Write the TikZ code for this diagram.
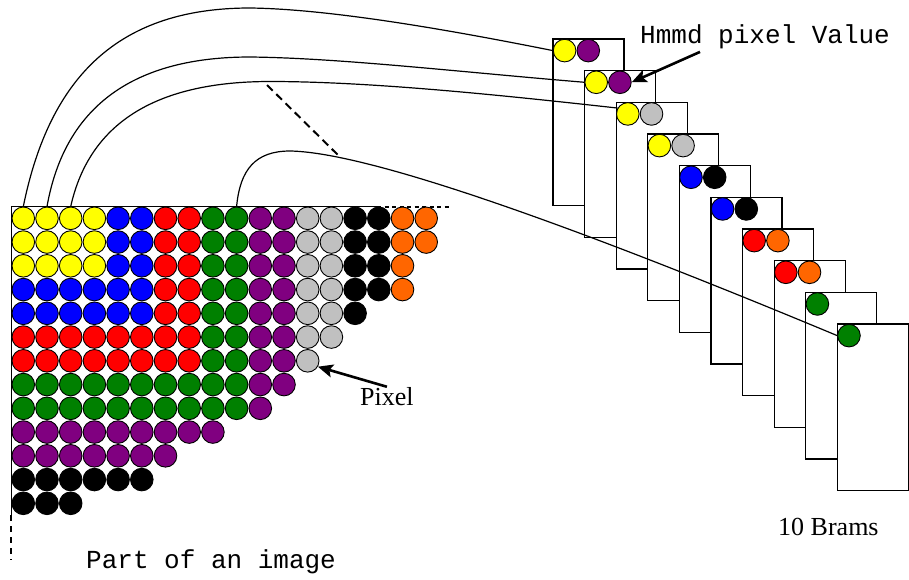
\documentclass[tikz,border=0pt]{standalone}
\usepackage{fontspec}
\setmainfont{Liberation Serif}
\setmonofont{Liberation Mono}
\usetikzlibrary{arrows.meta, positioning}

\definecolor{pxY}{RGB}{255,255,0}
\definecolor{pxB}{RGB}{0,0,255}
\definecolor{pxR}{RGB}{255,0,0}
\definecolor{pxG}{RGB}{0,128,0}
\definecolor{pxP}{RGB}{128,0,128}
\definecolor{pxS}{RGB}{192,192,192}
\definecolor{pxK}{RGB}{0,0,0}
\definecolor{pxO}{RGB}{255,102,0}

\begin{document}
\begin{tikzpicture}[x=1pt, y=-1pt,
  pix/.style={circle, draw, line width=.9pt, minimum size=22.6pt, inner sep=0pt},
  bram/.style={rectangle, draw, fill=white, line width=1.3pt, anchor=north west,
    minimum width=71pt, minimum height=166.7pt, inner sep=0pt},
  wire/.style={line width=1.2pt},
  arr/.style={line width=2.6pt, -{Stealth[length=15pt, width=13pt, inset=3pt]}},
  lbl/.style={inner sep=0pt, font=\fontsize{26}{30}\selectfont}]

  \useasboundingbox (0,0) rectangle (909,579);

  \coordinate (fr-tl) at (11,206.7);
  \coordinate (fr-t) at (377,206.7);
  \coordinate (fr-tr) at (450,206.7);
  \coordinate (fr-l) at (11,515);
  \coordinate (fr-bl) at (11,560);
  \draw[line width=1pt] (fr-l) -- (fr-tl) -- (fr-t);
  \draw[line width=1.8pt, dash pattern=on 4pt off 3.5pt] (fr-t) -- (fr-tr);
  \draw[line width=1.8pt, dash pattern=on 6pt off 5pt] (fr-l) -- (fr-bl);

  \foreach \r/\cols in {
    0/{Y,Y,Y,Y,B,B,R,R,G,G,P,P,S,S,K,K,O,O},
    1/{Y,Y,Y,Y,B,B,R,R,G,G,P,P,S,S,K,K,O,O},
    2/{Y,Y,Y,Y,B,B,R,R,G,G,P,P,S,S,K,K,O},
    3/{B,B,B,B,B,B,R,R,G,G,P,P,S,S,K,K,O},
    4/{B,B,B,B,B,B,R,R,G,G,P,P,S,S,K},
    5/{R,R,R,R,R,R,R,R,G,G,P,P,S,S},
    6/{R,R,R,R,R,R,R,R,G,G,P,P,S},
    7/{G,G,G,G,G,G,G,G,G,G,P,P},
    8/{G,G,G,G,G,G,G,G,G,G,P},
    9/{P,P,P,P,P,P,P,P,P},
    10/{P,P,P,P,P,P,P},
    11/{K,K,K,K,K,K},
    12/{K,K,K}}
    \foreach \c [count=\j from 0] in \cols
      \node[pix, fill=px\c] (p-\r-\j) at (23.3+23.7*\j, 218.3+23.75*\r) {};

  \foreach \v [count=\k from 0] in {Y,Y,Y,Y,B,B,R,R,G,G} {
    \node[bram] (b\k) at (552.3+31.6*\k, 38.3+31.67*\k) {};
    \node[pix, fill=px\v] (b\k-a) at ([xshift=12.3pt, yshift=-12.3pt]b\k.north west) {};
  }
  \foreach \w [count=\k from 0] in {P,P,S,S,K,K,O,O}
    \node[pix, fill=px\w] (b\k-b) at ([xshift=23.7pt]b\k-a.center) {};

  \draw[wire] (p-0-0.north) .. controls (50,75) and (120,8) .. (250,8)
    .. controls (330,9) and (450,30) .. (b0-a.west);
  \draw[wire] (p-0-1.north) .. controls (65,105) and (135,57) .. (250,57)
    .. controls (340,58) and (460,72) .. (b1-a.west);
  \draw[wire] (p-0-2.north) .. controls (90,120) and (160,81.5) .. (270,81.5)
    .. controls (370,81.5) and (500,95) .. (b2-a.150);
  \draw[wire] (p-0-9.north) .. controls (240,170) and (255,151) .. (290,151)
    .. controls (350,152) and (500,195) .. (b9-a.west);

  \coordinate (gap-a) at (267,85);
  \coordinate (gap-b) at (340,157);
  \draw[line width=2pt, dash pattern=on 8pt off 5pt] (gap-a) -- (gap-b);

  \node[lbl, anchor=base west] (pixlbl) at (360,405) {Pixel};
  \draw[arr] (pixlbl.north) -- (p-6-12.-30);

  \node[lbl, anchor=base west] (hmmlbl) at (640,43.3) {\ttfamily Hmmd pixel Value};
  \draw[arr] ([xshift=60pt, yshift=-3pt]hmmlbl.south west) -- (b1-b.east);

  \node[lbl, anchor=base west] (imglbl) at (86,568.3) {\ttfamily Part of an image};
  \node[lbl, anchor=base west] (bramlbl) at (778,535) {10 Brams};
\end{tikzpicture}
\end{document}
